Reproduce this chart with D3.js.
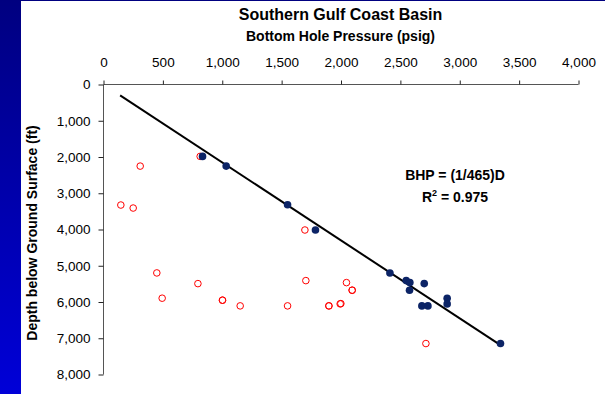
<!DOCTYPE html>
<html>
<head>
<meta charset="utf-8">
<script src="https://cdn.jsdelivr.net/npm/d3@7"></script>
<style>
  body { margin: 0; background: #fff; }
  svg { display: block; font-family: Arial, "Liberation Sans", sans-serif; }
</style>
</head>
<body>
<svg id="chart"></svg>
<script>
// data: [pressure psig, depth ft]
var pressureTicks = [0, 500, 1000, 1500, 2000, 2500, 3000, 3500, 4000];
var depthTicks = [0, 1000, 2000, 3000, 4000, 5000, 6000, 7000, 8000];

var openPress = [814, 309, 146, 250, 1696, 449, 494, 795, 1002, 1002, 1151, 1550, 1704, 1898, 1898, 1993, 2046, 2094, 2094, 1999, 2715];
var openDepth = [1983, 2251, 3325, 3408, 4014, 5198, 5895, 5493, 5950, 5950, 6107, 6107, 5410, 6107, 6107, 6052, 5465, 5675, 5675, 6044, 7146];

var fillPress = [834, 1033, 1550, 1785, 2412, 2549, 2580, 2577, 2701, 2681, 2732, 2894, 2894, 3343];
var fillDepth = [1983, 2251, 3316, 4014, 5198, 5410, 5465, 5675, 5493, 6107, 6107, 5895, 6052, 7146];

var fitPress = [140, 3340];   // BHP = 0.465 psi/ft * D
var gradient = 0.465;

(function (win){
	var W = 605, H = 394;
	var svg = d3.select("#chart").attr("width", W).attr("height", H);

	// blue frame on the left and top
	var defs = svg.append("defs");
	var lg = defs.append("linearGradient").attr("id", "side")
		.attr("x1", 0).attr("y1", 0).attr("x2", 0).attr("y2", 1);
	lg.append("stop").attr("offset", "0%").attr("stop-color", "#000080");
	lg.append("stop").attr("offset", "100%").attr("stop-color", "#0000d8");
	svg.append("rect").attr("x", 0).attr("y", 0).attr("width", 21).attr("height", H).attr("fill", "url(#side)");
	svg.append("rect").attr("x", 0).attr("y", 0).attr("width", W).attr("height", 1).attr("fill", "#000080");

	var x = d3.scaleLinear().domain([0, 4000]).range([103.5, 578.5]);
	var y = d3.scaleLinear().domain([0, 8000]).range([84.5, 374.5]);

	// titles
	svg.append("text").attr("x", 340.5).attr("y", 20).attr("text-anchor", "middle")
		.attr("font-size", 16).attr("font-weight", "bold").text("Southern Gulf Coast Basin");
	svg.append("text").attr("x", 340.5).attr("y", 41).attr("text-anchor", "middle")
		.attr("font-size", 14).attr("font-weight", "bold").text("Bottom Hole Pressure (psig)");
	svg.append("text").attr("transform", "translate(36.5,233) rotate(-90)").attr("text-anchor", "middle")
		.attr("font-size", 14).attr("font-weight", "bold").text("Depth below Ground Surface (ft)");

	// x axis on top
	var xAxis = d3.axisTop(x).tickValues(pressureTicks).tickSize(4).tickPadding(14)
		.tickFormat(d3.format(","));
	var gx = svg.append("g").attr("transform", "translate(0,84.5)").call(xAxis);
	gx.select(".domain").attr("stroke", "#555").attr("d", "M103.5,0H578.5");
	gx.selectAll(".tick line").attr("stroke", "#222");
	gx.selectAll(".tick text").attr("font-size", 13.5).attr("fill", "#000");

	var yAxis = d3.axisLeft(y).tickValues(depthTicks).tickSize(5).tickPadding(8)
		.tickFormat(d3.format(","));
	var gy = svg.append("g").attr("transform", "translate(103.5,0)").call(yAxis);
	gy.select(".domain").attr("stroke", "#555").attr("d", "M0,84.5V374.5");
	gy.selectAll(".tick line").attr("stroke", "#222");
	gy.selectAll(".tick text").attr("font-size", 13.5).attr("fill", "#000");
	svg.selectAll(".tick text").attr("font-family", "Arial, 'Liberation Sans', sans-serif");

	// regression line
	var line = d3.line().x(function (p) { return x(p); }).y(function (p) { return y(p / gradient); });
	svg.append("path").attr("d", line(fitPress)).attr("stroke", "#000").attr("stroke-width", 2).attr("fill", "none");

	// open red points
	svg.append("g").selectAll("circle").data(openPress).join("circle")
		.attr("cx", function (d) { return x(d); })
		.attr("cy", function (d, i) { return y(openDepth[i]); })
		.attr("r", 3.3).attr("fill", "none").attr("stroke", "#ff0000").attr("stroke-width", 1);

	// filled navy points
	svg.append("g").selectAll("circle").data(fillPress).join("circle")
		.attr("cx", function (d) { return x(d); })
		.attr("cy", function (d, i) { return y(fillDepth[i]); })
		.attr("r", 3.8).attr("fill", "#0c2466");

	// equation annotation
	svg.append("text").attr("x", 455).attr("y", 179.5).attr("text-anchor", "middle")
		.attr("font-size", 14).attr("font-weight", "bold").text("BHP = (1/465)D");
	var r2 = svg.append("text").attr("x", 455).attr("y", 201.5).attr("text-anchor", "middle")
		.attr("font-size", 14).attr("font-weight", "bold");
	r2.append("tspan").text("R");
	r2.append("tspan").attr("font-size", 9).attr("dy", -6).text("2");
	r2.append("tspan").attr("dy", 6).text(" = 0.975");
}(window));
</script>
</body>
</html>
